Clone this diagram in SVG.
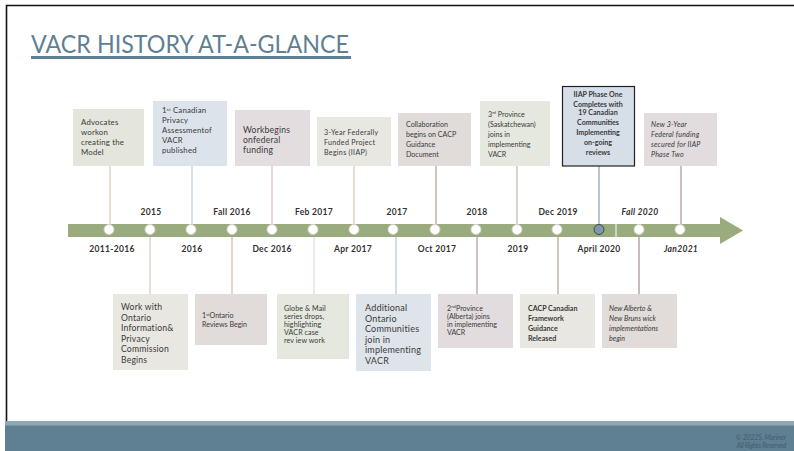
<svg xmlns="http://www.w3.org/2000/svg" width="794" height="451" viewBox="0 0 794 451">
<style>
text{font-family:Lato,"Liberation Sans",sans-serif;fill:#3a3a3a}
.bx{font-size:7.1px}
.b{font-weight:bold}
.i{font-style:italic}
.yr{font-size:8.5px;font-weight:bold;text-anchor:middle;fill:#333;letter-spacing:0.3px}
.dot{fill:#fff;stroke:#d4d4d4;stroke-width:1}
.ln{stroke-width:1;fill:none}
</style>
<rect x="0" y="0" width="794" height="451" fill="#fff"/>
<path d="M6.5 451 V5.5 H794" fill="none" stroke="#111" stroke-width="1.6"/>
<rect x="5" y="421" width="789" height="5" fill="#8fa8b6"/>
<rect x="5" y="425.5" width="789" height="25.5" fill="#5f7f93"/>
<text x="786" y="440" text-anchor="end" font-size="7" font-style="italic" letter-spacing="-0.2" style="fill:#4a5d69">© 2022S. Mariner</text>
<text x="786" y="447.5" text-anchor="end" font-size="7" font-style="italic" letter-spacing="-0.3" style="fill:#4a5d69">All Rights Reserved</text>

<g id="title">
<text x="31" y="53" font-size="25" textLength="318" lengthAdjust="spacingAndGlyphs" style="fill:#5f7f93">VACR HISTORY AT-A-GLANCE</text>
<rect x="31" y="56" width="320" height="3" fill="#5f7f93"/>
</g>

<g id="timeline">
<rect x="68" y="224" width="652" height="13" fill="#9aab7d"/>
<polygon points="720,217 743,230.5 720,244" fill="#9aab7d"/>
<line x1="616" y1="224" x2="616" y2="237" stroke="#fff" stroke-width="1"/>
</g>

<g id="connectors">
<line class="ln" x1="110" y1="166" x2="110" y2="224" stroke="#cdbfa6"/>
<line class="ln" x1="192" y1="166" x2="192" y2="224" stroke="#a7bfd6"/>
<line class="ln" x1="272" y1="166" x2="272" y2="224" stroke="#d9a5b3"/>
<line class="ln" x1="354" y1="166" x2="354" y2="224" stroke="#cdb9a5"/>
<line class="ln" x1="436" y1="166" x2="436" y2="224" stroke="#a08c7c"/>
<line class="ln" x1="517" y1="166" x2="517" y2="224" stroke="#a9b199"/>
<line class="ln" x1="599" y1="166" x2="599" y2="224" stroke="#6f8ea1"/>
<line class="ln" x1="681" y1="166" x2="681" y2="224" stroke="#9b7d88"/>
<line class="ln" x1="150" y1="237" x2="150" y2="294" stroke="#d6bfb0"/>
<line class="ln" x1="232" y1="237" x2="232" y2="294" stroke="#c9ad9c"/>
<line class="ln" x1="314" y1="237" x2="314" y2="294" stroke="#e5d0cb"/>
<line class="ln" x1="396" y1="237" x2="396" y2="294" stroke="#a3bcd3"/>
<line class="ln" x1="477" y1="237" x2="477" y2="294" stroke="#9d8290"/>
<line class="ln" x1="558" y1="237" x2="558" y2="294" stroke="#a38d80"/>
<line class="ln" x1="639" y1="237" x2="639" y2="294" stroke="#8b7b72"/>
</g>

<g id="dots">
<circle class="dot" cx="109" cy="229.5" r="5"/>
<circle class="dot" cx="150" cy="229.5" r="5"/>
<circle class="dot" cx="191" cy="229.5" r="5"/>
<circle class="dot" cx="232" cy="229.5" r="5"/>
<circle class="dot" cx="272" cy="229.5" r="5"/>
<circle class="dot" cx="313" cy="229.5" r="5"/>
<circle class="dot" cx="354" cy="229.5" r="5" stroke-dasharray="1.5 1"/>
<circle class="dot" cx="393" cy="229.5" r="5" stroke-dasharray="1.5 1"/>
<circle class="dot" cx="435" cy="229.5" r="5"/>
<circle class="dot" cx="476" cy="229.5" r="5"/>
<circle class="dot" cx="517" cy="229.5" r="5"/>
<circle class="dot" cx="557" cy="229.5" r="5"/>
<circle cx="599" cy="229.5" r="5" fill="#7f98a8" stroke="#3a4a55" stroke-width="1"/>
<circle class="dot" cx="639" cy="229.5" r="5"/>
<circle class="dot" cx="680" cy="229.5" r="5"/>
</g>

<g id="dates">
<text class="yr" x="151" y="215">2015</text>
<text class="yr" x="232" y="215">Fall 2016</text>
<text class="yr" x="314" y="215">Feb 2017</text>
<text class="yr" x="397" y="215">2017</text>
<text class="yr" x="477" y="215">2018</text>
<text class="yr" x="558" y="215">Dec 2019</text>
<text class="yr i" x="640" y="215">Fall 2020</text>
<text class="yr" x="112" y="252">2011-2016</text>
<text class="yr" x="192" y="252">2016</text>
<text class="yr" x="272" y="252">Dec 2016</text>
<text class="yr" x="353" y="252">Apr 2017</text>
<text class="yr" x="437" y="252">Oct 2017</text>
<text class="yr" x="518" y="252">2019</text>
<text class="yr" x="599" y="252">April 2020</text>
<text class="yr i" x="681" y="252">Jan2021</text>
</g>

<g id="n1">
<rect x="73" y="109" width="71" height="57" fill="#e4e5dc"/>
<text font-size="7.8" letter-spacing="0.2"><tspan x="81" y="125">Advocates</tspan><tspan x="81" y="134.5">workon</tspan><tspan x="81" y="144.5">creating the</tspan><tspan x="81" y="154.5">Model</tspan></text>
</g>
<g id="n2">
<rect x="153" y="101" width="74" height="65" fill="#dde3ea"/>
<text font-size="7.8" letter-spacing="0.2"><tspan x="162" y="113">1</tspan><tspan font-size="4.5" dy="-2.5">st</tspan><tspan dy="2.5"> Canadian</tspan><tspan x="162" y="123">Privacy</tspan><tspan x="162" y="133">Assessmentof</tspan><tspan x="162" y="143">VACR</tspan><tspan x="162" y="153">published</tspan></text>
</g>
<g id="n3">
<rect x="235" y="110" width="75" height="56" fill="#e3dde0"/>
<text font-size="8.6" letter-spacing="0.2"><tspan x="243" y="132.5">Workbegins</tspan><tspan x="243" y="142.5">onfederal</tspan><tspan x="243" y="152.5">funding</tspan></text>
</g>
<g id="n4">
<rect x="317" y="117" width="74" height="49" fill="#e9e7e2"/>
<text class="bx" letter-spacing="0.3"><tspan x="324" y="134.5">3-Year  Federally</tspan><tspan x="324" y="144.5">Funded  Project</tspan><tspan x="324" y="154.5">Begins  (IIAP)</tspan></text>
</g>
<g id="n5">
<rect x="398" y="113" width="73" height="53" fill="#e1dcda"/>
<text class="bx"><tspan x="406" y="126.5">Collaboration</tspan><tspan x="406" y="136.5">begins on CACP</tspan><tspan x="406" y="146.5">Guidance</tspan><tspan x="406" y="156.5">Document</tspan></text>
</g>
<g id="n6">
<rect x="480" y="101" width="70" height="65" fill="#e5e8de"/>
<text class="bx"><tspan x="488" y="116.5">3</tspan><tspan font-size="4.3" dy="-2.3">rd</tspan><tspan dy="2.3"> Province</tspan><tspan x="488" y="126.5">(Saskatchewan)</tspan><tspan x="488" y="136.5">joins in</tspan><tspan x="488" y="146.5">implementing</tspan><tspan x="488" y="156.5">VACR</tspan></text>
</g>
<g id="n7">
<rect x="562.5" y="86.5" width="72" height="79.5" fill="#d6dee7" stroke="#222" stroke-width="1.2"/>
<text class="bx b" text-anchor="middle"><tspan x="598" y="96.5">IIAP Phase  One</tspan><tspan x="598" y="106.5">Completes with</tspan><tspan x="598" y="114.5">19 Canadian</tspan><tspan x="598" y="124.5">Communities</tspan><tspan x="598" y="134.5">Implementing</tspan><tspan x="598" y="144.5">on-going</tspan><tspan x="598" y="154.5">reviews</tspan></text>
</g>
<g id="n8">
<rect x="644" y="113" width="73" height="53" fill="#e3dcdf"/>
<text class="bx i" letter-spacing="0.2"><tspan x="651" y="126.5">New 3-Year</tspan><tspan x="651" y="136.5">Federal funding</tspan><tspan x="651" y="146.5">secured for IIAP</tspan><tspan x="651" y="156.5">Phase Two</tspan></text>
</g>

<g id="n9">
<rect x="113" y="294" width="75" height="76" fill="#e9e7e1"/>
<text font-size="8.6" letter-spacing="0.2"><tspan x="121" y="310">Work with</tspan><tspan x="121" y="320.5">Ontario</tspan><tspan x="121" y="331">Information&amp;</tspan><tspan x="121" y="341.5">Privacy</tspan><tspan x="121" y="352">Commission</tspan><tspan x="121" y="362.5">Begins</tspan></text>
</g>
<g id="n10">
<rect x="195" y="294" width="72" height="51" fill="#e1dcda"/>
<text class="bx"><tspan x="202" y="318">1</tspan><tspan font-size="4.3" dy="-2.3">st</tspan><tspan dy="2.3">Ontario</tspan><tspan x="202" y="326.5">Reviews Begin</tspan></text>
</g>
<g id="n11">
<rect x="277" y="294" width="72" height="65" fill="#e4e8de"/>
<text class="bx" letter-spacing="0.1"><tspan x="284" y="310.5">Globe  &amp; Mail</tspan><tspan x="284" y="318.5">series drops,</tspan><tspan x="284" y="326.5">highlighting</tspan><tspan x="284" y="334.5">VACR  case</tspan><tspan x="284" y="342.5">rev iew work</tspan></text>
</g>
<g id="n12">
<rect x="356" y="294" width="75" height="77" fill="#dfe4ea"/>
<text font-size="9" letter-spacing="0.2"><tspan x="365" y="311">Additional</tspan><tspan x="365" y="321.5">Ontario</tspan><tspan x="365" y="332">Communities</tspan><tspan x="365" y="342.5">join in</tspan><tspan x="365" y="353">implementing</tspan><tspan x="365" y="363.5">VACR</tspan></text>
</g>
<g id="n13">
<rect x="438" y="294" width="75" height="54" fill="#e3dcdf"/>
<text class="bx"><tspan x="447" y="310.5">2</tspan><tspan font-size="4.3" dy="-2.3">nd</tspan><tspan dy="2.3">Province</tspan><tspan x="447" y="318.5">(Alberta) joins</tspan><tspan x="447" y="326.5">in implementing</tspan><tspan x="447" y="334.5">VACR</tspan></text>
</g>
<g id="n14">
<rect x="520" y="294" width="75" height="54" fill="#e9e7e1"/>
<text class="bx b"><tspan x="528" y="310.5">CACP  Canadian</tspan><tspan x="528" y="320.5">Framework</tspan><tspan x="528" y="330.5">Guidance</tspan><tspan x="528" y="340.5">Released</tspan></text>
</g>
<g id="n15">
<rect x="602" y="294" width="75" height="54" fill="#e1dcda"/>
<text class="bx i"><tspan x="609" y="310.5">New Alberto  &amp;</tspan><tspan x="609" y="320.5">New Bruns wick</tspan><tspan x="609" y="330.5">implementations</tspan><tspan x="609" y="340.5">begin</tspan></text>
</g>
</svg>
